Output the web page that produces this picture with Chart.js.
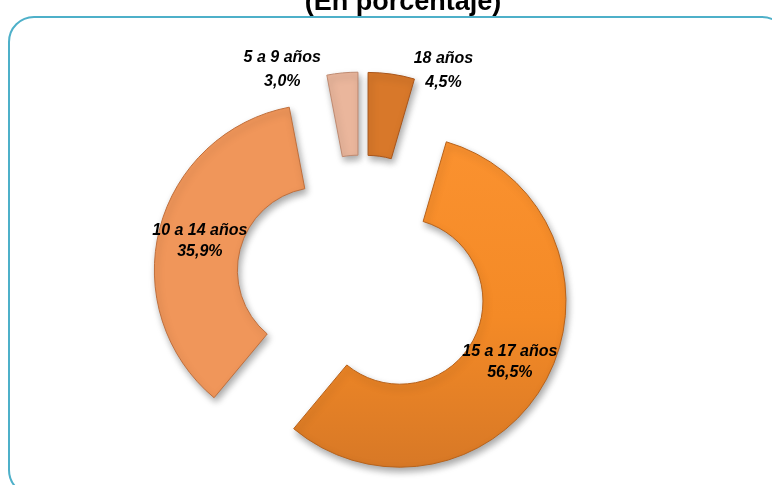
<!DOCTYPE html>
<html>
<head>
<meta charset="utf-8">
<script src="https://cdn.jsdelivr.net/npm/chart.js@4.4.0/dist/chart.umd.min.js"></script>
<style>
    html, body { margin: 0; padding: 0; background: #fff; }
    #wrap { position: relative; width: 772px; height: 485px; overflow: hidden; }
    #frame {
        position: absolute; left: 8px; top: 16px; width: 780px; height: 480px;
        border: 2px solid #4eb0c9; border-radius: 26px; box-sizing: border-box;
    }
    #edadChart { position: absolute; left: 0; top: 0; }
</style>
</head>
<body>
<div id="wrap">
    <div id="frame"></div>
    <canvas id="edadChart" width="772" height="485"></canvas>
</div>
<script>
var tituloGrafico = '(En porcentaje)';
var categorias = ['18 años', '15 a 17 años', '10 a 14 años', '5 a 9 años'];
var porcentajes = [4.5, 56.5, 35.9, 3.0];
var colores = ['#d8782a', '#f98e28', '#f0965a', '#eab69c'];
var bordes = ['#a9551a', '#b8621a', '#c06f3c', '#bf8a70'];
var separacion = 43; // porciones separadas (explotadas) como en Excel

function fmt(v) {
    return v.toFixed(1).replace('.', ',') + '%';
}

// gradient para la porcion grande
function fondo(ctx) {
    var i = ctx.dataIndex;
    var chart = ctx.chart;
    if (i !== 1 || !chart.chartArea) return colores[i];
    var g = chart.ctx.createLinearGradient(0, 130, 0, 470);
    g.addColorStop(0, '#fb9230');
    g.addColorStop(0.55, '#f48a26');
    g.addColorStop(1, '#d77826');
    return g;
}

// mueve cada porcion hacia afuera sin cambiar su radio
var explotar = {
    id: 'explotar',
    afterDatasetUpdate: function (chart, args) {
        var area = chart.chartArea;
        var x0 = (area.left + area.right) / 2;
        var y0 = (area.top + area.bottom) / 2;
        args.meta.data.forEach(function (arc) {
            var mid = (arc.startAngle + arc.endAngle) / 2;
            arc.x = x0 + Math.cos(mid) * separacion;
            arc.y = y0 + Math.sin(mid) * separacion;
        });
    }
};

var sombra = {
    id: 'sombra',
    beforeDatasetDraw: function (chart) {
        var c = chart.ctx;
        c.save();
        c.shadowColor = 'rgba(0,0,0,0.35)';
        c.shadowBlur = 7;
        c.shadowOffsetX = 2;
        c.shadowOffsetY = 4;
    },
    afterDatasetDraw: function (chart) {
        chart.ctx.restore();
    }
};

var etiquetas = {
    id: 'etiquetas',
    afterDraw: function (chart) {
        var c = chart.ctx;
        var meta = chart.getDatasetMeta(0);
        c.save();
        c.fillStyle = '#000';
        c.textAlign = 'center';
        c.textBaseline = 'middle';
        c.font = 'italic bold 16px "Liberation Sans", Arial, sans-serif';
        meta.data.forEach(function (arc, i) {
            var mid = (arc.startAngle + arc.endAngle) / 2;
            var x, y, h;
            if (porcentajes[i] > 10) {
                var r = (arc.innerRadius + arc.outerRadius) / 2;
                x = arc.x + Math.cos(mid) * r;
                y = arc.y + Math.sin(mid) * r + 2;
                h = 10.5;
            } else {
                x = arc.x + Math.cos(mid) * arc.outerRadius + (Math.cos(mid) > 0 ? 52 : -60);
                y = arc.y + Math.sin(mid) * arc.outerRadius - 3;
                h = 12;
            }
            c.fillText(categorias[i], x, y - h);
            c.fillText(fmt(porcentajes[i]), x, y + h);
        });
        // titulo (cortado arriba como en el original)
        c.font = 'bold 27px "Liberation Sans", Arial, sans-serif';
        c.textBaseline = 'alphabetic';
        c.fillText(tituloGrafico, 403, 10);
        c.restore();
    }
};

new Chart(document.getElementById('edadChart'), {
    type: 'doughnut',
    data: {
        labels: categorias,
        datasets: [{
            data: porcentajes,
            backgroundColor: fondo,
            borderColor: bordes,
            borderWidth: 1
        }]
    },
    options: {
        responsive: false,
        animation: false,
        events: [],
        rotation: 0,
        radius: 166,
        cutout: '50%',
        layout: { padding: { left: 0, right: 48, top: 77, bottom: 0 } },
        plugins: {
            legend: { display: false },
            tooltip: { enabled: false },
            title: { display: false }
        }
    },
    plugins: [explotar, sombra, etiquetas]
});
</script>
</body>
</html>
